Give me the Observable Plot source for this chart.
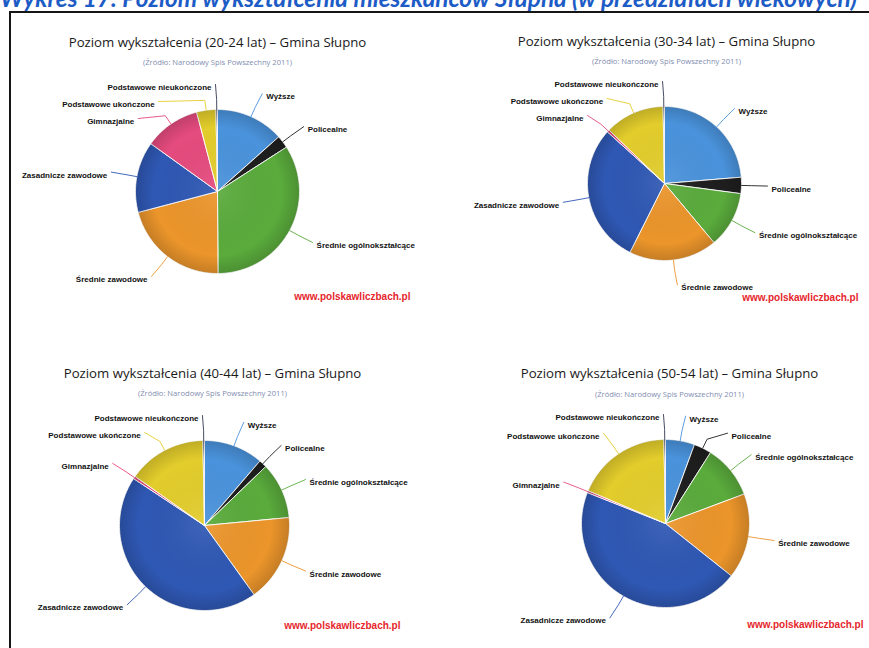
<!DOCTYPE html>
<html><head><meta charset="utf-8">
<script src="https://cdn.jsdelivr.net/npm/d3@7"></script>
<script src="https://cdn.jsdelivr.net/npm/@observablehq/plot@0.6"></script>
<style>
html,body{margin:0;padding:0;background:#fff;width:869px;height:648px;overflow:hidden;position:relative;}
#header{position:absolute;left:0;top:-13px;font:italic 700 21px Lato, "Open Sans", sans-serif;line-height:21px;color:#1d5cc6;white-space:nowrap;}
#frame{position:absolute;left:9px;top:11px;width:900px;height:700px;border-top:2px solid #161616;border-left:2px solid #161616;}
#chart{position:absolute;left:0;top:0;}
</style></head><body>
<div id="header">Wykres 17. Poziom wykształcenia mieszkańców Słupna (w przedziałach wiekowych)</div>
<div id="frame"></div>
<div id="chart"></div>
<script>
// ---- data ----
const categories = ["Wyższe","Policealne","Średnie ogólnokształcące","Średnie zawodowe","Zasadnicze zawodowe","Gimnazjalne","Podstawowe ukończone","Podstawowe nieukończone"];
const ageGroups = ["20-24","30-34","40-44","50-54"];
const values_20_24 = [13.4, 2.5, 34.0, 21.0, 14.0, 11.0, 3.8, 0.3];
const values_30_34 = [23.7, 3.4, 11.8, 18.5, 29.3, 0.5, 12.5, 0.3];
const values_40_44 = [11.3, 1.5, 10.7, 16.6, 44.2, 0.5, 14.9, 0.3];
const values_50_54 = [5.6, 3.4, 10.3, 16.4, 45.3, 0.4, 18.3, 0.3];
const sourceNote = "(Źródło: Narodowy Spis Powszechny 2011)";
const watermark = "www.polskawliczbach.pl";

// ---- styles / layout ----
const colors = ["#4a93dc","#1e1e1e","#5aab3c","#eb952b","#2f58b4","#e54b7e","#e3cd2c","#33384f"];
const series = [values_20_24, values_30_34, values_40_44, values_50_54];
const layout = [
  {cx:217, cy:191, r:82, tx:217, ty:42, sy:62, wx:410, wy:296},
  {cx:664, cy:183, r:77, tx:666, ty:41, sy:61, wx:858, wy:297},
  {cx:204, cy:525, r:85, tx:212, ty:373, sy:393, wx:400, wy:625},
  {cx:665, cy:523, r:84, tx:669, ty:373, sy:394, wx:863, wy:624}
];

const sliceRows = [], connRows = [], labelRows = [], paneRows = [];
series.forEach((vals, i) => {
  const L = layout[i];
  paneRows.push({...L, title: `Poziom wykształcenia (${ageGroups[i]} lat) – Gmina Słupno`});
  const total = d3.sum(vals);
  let a = 0;
  const R = L.r + 25;
  const labs = [];
  vals.forEach((v, k) => {
    const a0 = a, a1 = a + v / total * 2 * Math.PI; a = a1;
    const key = i + "-" + k, cat = categories[k];
    sliceRows.push({key, cat, x: L.cx, y: L.cy});
    const n = Math.max(2, Math.ceil((a1 - a0) / (Math.PI / 180)));
    for (let j = 0; j <= n; j++) {
      const t = a0 + (a1 - a0) * j / n;
      sliceRows.push({key, cat, x: L.cx + L.r * Math.sin(t), y: L.cy - L.r * Math.cos(t)});
    }
    sliceRows.push({key, cat, x: L.cx, y: L.cy});
    const mid = (a0 + a1) / 2;
    const side = mid < Math.PI ? 1 : -1;
    labs.push({key, cat, mid, side, ly: L.cy - R * Math.cos(mid)});
  });
  [1, -1].forEach(s => {
    const group = labs.filter(d => d.side === s).sort((p, q) => p.ly - q.ly);
    for (let j = 1; j < group.length; j++) group[j].ly = Math.max(group[j].ly, group[j-1].ly + 17);
  });
  labs.forEach(d => {
    const dy = d.ly - L.cy;
    const lx = L.cx + d.side * Math.sqrt(Math.max(0, R * R - dy * dy));
    const ck = "c" + d.key;
    connRows.push({key: ck, cat: d.cat, x: L.cx + L.r * Math.sin(d.mid), y: L.cy - L.r * Math.cos(d.mid)});
    connRows.push({key: ck, cat: d.cat, x: L.cx + (L.r + 10) * Math.sin(d.mid), y: L.cy - (L.r + 10) * Math.cos(d.mid)});
    connRows.push({key: ck, cat: d.cat, x: lx + d.side * 1, y: d.ly});
    labelRows.push({cat: d.cat, side: d.side, x: lx + d.side * 5, y: d.ly + 3});
  });
});

const labelFont = "Liberation Sans, Arial, sans-serif";
const plot = Plot.plot({
  width: 869, height: 648, margin: 0,
  x: {domain: [0, 869], range: [0, 869], axis: null},
  y: {domain: [0, 648], range: [0, 648], axis: null},
  r: {type: "identity"},
  color: {domain: categories, range: colors},
  style: {background: "transparent", overflow: "visible"},
  marks: [
    Plot.line(sliceRows, {x: "x", y: "y", z: "key", fill: "cat", stroke: "white", strokeWidth: 0.9, curve: "linear"}),
    Plot.dot(layout, {x: "cx", y: "cy", r: "r", fill: "url(#rim)", stroke: "none"}),
    Plot.line(connRows, {x: "x", y: "y", z: "key", stroke: "cat", strokeWidth: 0.9}),
    Plot.text(labelRows.filter(d => d.side > 0), {x: "x", y: "y", text: "cat", textAnchor: "start", fontSize: 8, fontWeight: "bold", fontFamily: labelFont, fill: "#111"}),
    Plot.text(labelRows.filter(d => d.side < 0), {x: "x", y: "y", text: "cat", textAnchor: "end", fontSize: 8, fontWeight: "bold", fontFamily: labelFont, fill: "#111"}),
    Plot.text(paneRows, {x: "tx", y: "ty", text: "title", fontSize: 13.2, fontFamily: "Open Sans, sans-serif", fill: "#1a1a1a"}),
    Plot.text(paneRows, {x: "tx", y: "sy", text: () => sourceNote, fontSize: 7.6, fontFamily: "Open Sans, sans-serif", fill: "#7f8db0"}),
    Plot.text(paneRows, {x: "wx", y: "wy", text: () => watermark, textAnchor: "end", fontSize: 10, fontWeight: "bold", fontFamily: labelFont, fill: "#e5262c"})
  ]
});
const defs = document.createElementNS("http://www.w3.org/2000/svg", "defs");
defs.innerHTML = `<radialGradient id="rim" cx="0.5" cy="0.5" r="0.5"><stop offset="0" stop-color="#fff" stop-opacity="0.08"/><stop offset="0.78" stop-color="#000" stop-opacity="0"/><stop offset="1" stop-color="#000" stop-opacity="0.16"/></radialGradient>`;
plot.insertBefore(defs, plot.firstChild);
document.getElementById("chart").appendChild(plot);

// fit header to the width seen in the reference
const h = document.getElementById("header");
const w = h.getBoundingClientRect().width;
h.style.fontSize = (21 * 857 / w).toFixed(2) + "px";
</script>
</body></html>
